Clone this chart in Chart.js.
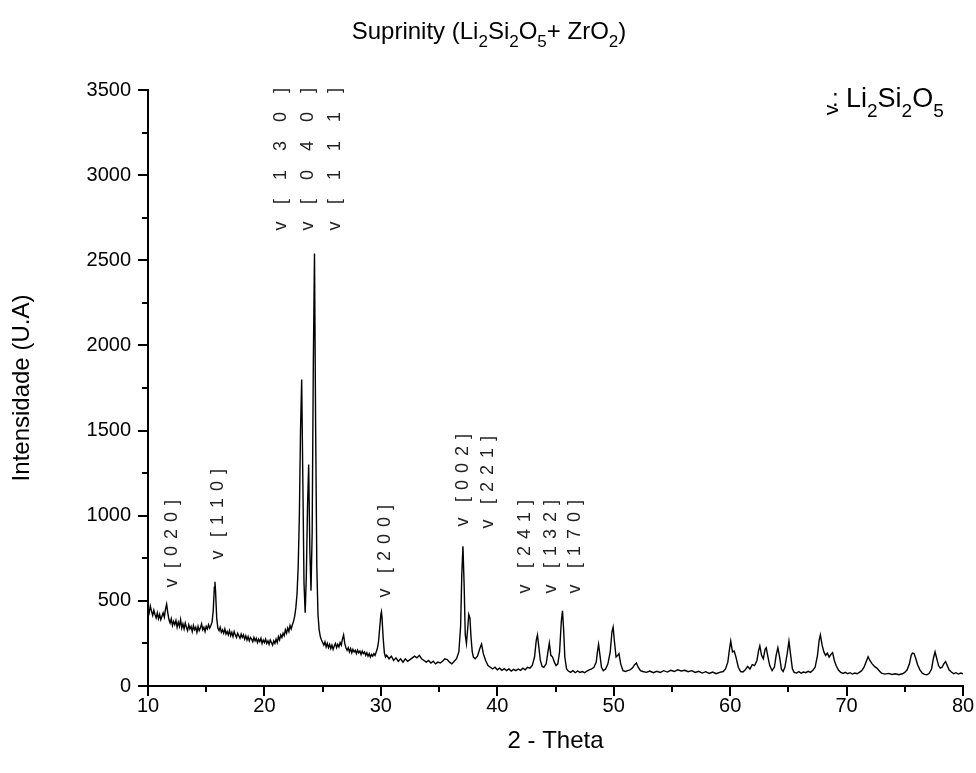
<!DOCTYPE html>
<html lang="pt">
<head>
<meta charset="UTF-8">
<title>Suprinity (Li2Si2O5 + ZrO2)</title>
<script src="https://cdn.jsdelivr.net/npm/chart.js"></script>
<style>
  html, body { margin: 0; padding: 0; background: #fff; }
  #wrap { width: 976px; height: 773px; }
</style>
</head>
<body>
<div id="wrap"><canvas id="xrdChart" width="976" height="773"></canvas></div>
<script>
// 2-theta positions
const theta = [
  10.0,10.1,10.2,10.3,10.4,10.5,10.6,10.7,10.8,10.9,
  11.0,11.1,11.2,11.3,11.4,11.5,11.6,11.7,11.8,11.9,
  12.0,12.1,12.2,12.3,12.4,12.5,12.6,12.7,12.8,12.9,
  13.0,13.1,13.2,13.3,13.4,13.5,13.6,13.7,13.8,13.9,
  14.0,14.1,14.2,14.3,14.4,14.5,14.6,14.7,14.8,14.9,
  15.0,15.1,15.2,15.3,15.4,15.5,15.6,15.7,15.75,15.8,15.9,
  16.0,16.1,16.2,16.3,16.4,16.5,16.6,16.7,16.8,16.9,
  17.0,17.1,17.2,17.3,17.4,17.5,17.6,17.7,17.8,17.9,
  18.0,18.1,18.2,18.3,18.4,18.5,18.6,18.7,18.8,18.9,
  19.0,19.1,19.2,19.3,19.4,19.5,19.6,19.7,19.8,19.9,
  20.0,20.1,20.2,20.3,20.4,20.5,20.6,20.7,20.8,20.9,
  21.0,21.1,21.2,21.3,21.4,21.5,21.6,21.7,21.8,21.9,
  22.0,22.1,22.2,22.3,22.4,22.5,22.6,22.7,22.8,22.9,
  23.0,23.1,23.2,23.3,23.4,23.5,23.6,23.7,23.8,23.9,
  24.0,24.1,24.2,24.3,24.4,24.5,24.6,24.7,24.8,24.9,
  25.0,25.1,25.2,25.3,25.4,25.5,25.6,25.7,25.8,25.9,
  26.0,26.1,26.2,26.3,26.4,26.5,26.6,26.7,26.8,26.9,
  27.0,27.1,27.2,27.3,27.4,27.5,27.6,27.7,27.8,27.9,
  28.0,28.1,28.2,28.3,28.4,28.5,28.6,28.7,28.8,28.9,
  29.0,29.1,29.2,29.3,29.4,29.5,29.6,29.7,29.8,29.9,
  30.0,30.05,30.1,30.2,30.3,30.4,
  30.5,30.7,30.9,31.1,31.3,31.5,31.7,31.9,32.1,32.3,
  32.5,32.7,32.9,33.1,33.3,33.5,33.7,33.9,34.1,34.3,
  34.5,34.7,34.9,35.1,35.3,35.5,35.7,35.9,36.1,36.3,
  36.5,36.7,36.85,36.95,37.05,37.15,37.25,37.35,37.45,37.55,
  37.65,37.75,37.85,37.95,38.1,38.3,38.5,38.65,38.8,39.0,
  39.2,39.4,39.6,39.8,40.0,40.2,40.4,40.6,40.8,41.0,
  41.2,41.4,41.6,41.8,42.0,42.2,42.4,42.6,42.8,43.0,
  43.2,43.35,43.45,43.55,43.7,43.85,44.0,44.2,44.35,44.47,
  44.6,44.75,44.9,45.05,45.2,45.35,45.5,45.6,45.7,45.8,
  45.95,46.1,46.3,46.5,46.7,46.9,47.1,47.3,47.5,47.7,
  47.9,48.1,48.3,48.5,48.6,48.7,48.8,48.95,49.1,49.3,
  49.5,49.7,49.85,49.95,50.05,50.2,50.35,50.45,50.6,50.8,
  51.0,51.2,51.4,51.6,51.8,51.95,52.1,52.3,52.5,52.8,
  53.1,53.4,53.7,54.0,54.3,54.6,54.9,55.2,55.5,55.8,
  56.1,56.4,56.7,57.0,57.3,57.6,57.9,58.2,58.5,58.8,
  59.1,59.4,59.6,59.8,59.95,60.05,60.2,60.35,60.5,60.7,
  60.9,61.1,61.3,61.5,61.7,61.9,62.1,62.3,62.45,62.55,
  62.7,62.85,63.0,63.1,63.25,63.4,63.6,63.8,63.95,64.1,
  64.25,64.4,64.55,64.7,64.9,65.05,65.2,65.35,65.5,65.7,
  65.9,66.1,66.3,66.5,66.7,66.9,67.1,67.3,67.5,67.65,
  67.75,67.9,68.05,68.2,68.35,68.5,68.65,68.8,68.95,69.1,
  69.3,69.5,69.7,69.9,70.1,70.3,70.5,70.7,70.9,71.1,
  71.3,71.5,71.7,71.85,72.0,72.2,72.4,72.6,72.8,73.0,
  73.3,73.6,73.9,74.2,74.5,74.8,75.0,75.2,75.4,75.55,
  75.65,75.8,75.95,76.1,76.3,76.5,76.7,76.9,77.1,77.3,
  77.45,77.6,77.75,77.9,78.05,78.2,78.35,78.5,78.65,78.8,
  79.0,79.2,79.4,79.6,79.8,80.0
];

// intensity (U.A) at each theta above
const intensity = [
  455,430,470,440,415,445,420,400,430,395,
  420,390,410,430,405,450,480,430,390,370,
  395,355,380,360,385,345,375,350,390,340,
  365,335,370,345,325,360,335,350,320,355,
  330,345,315,350,325,340,365,330,345,320,
  350,335,360,340,355,375,440,580,612,560,400,
  340,325,345,315,330,310,335,305,320,300,
  325,295,315,290,320,300,285,310,295,280,
  305,285,300,275,295,270,290,265,285,275,
  260,285,265,280,255,275,260,280,250,270,
  255,275,250,265,245,270,255,240,265,250,
  275,255,290,270,300,285,310,295,330,310,
  340,320,355,335,360,380,410,460,540,700,
  1000,1500,1800,1200,600,430,650,1050,1300,800,
  560,900,1900,2540,1500,700,420,330,290,270,
  255,240,260,230,250,225,245,220,240,215,
  235,250,225,245,230,255,240,275,300,250,
  225,210,225,200,220,195,215,200,210,190,
  210,195,205,185,205,190,200,180,195,175,
  190,170,185,175,190,180,200,220,260,340,
  420,436,400,280,195,170,
  180,160,175,150,165,145,160,140,160,145,
  155,165,175,165,180,160,150,140,150,135,
  145,130,140,135,145,160,155,140,130,145,
  160,200,350,650,820,600,300,250,330,420,
  400,280,200,170,160,175,220,246,190,150,
  120,110,100,110,95,105,92,102,90,100,
  88,98,90,100,92,105,95,110,105,120,
  170,270,300,240,150,115,110,130,200,252,
  180,170,140,120,130,200,380,442,330,170,
  100,88,80,90,78,88,80,85,78,88,
  95,100,110,140,200,245,190,110,90,100,
  130,200,320,346,270,170,180,190,130,90,
  85,90,95,105,125,135,110,90,85,80,
  88,78,86,80,90,82,92,85,95,88,
  92,84,90,80,86,76,84,74,82,72,
  80,85,100,140,220,264,200,205,170,110,
  85,82,95,115,100,125,120,150,210,235,
  180,160,215,225,170,120,90,110,180,225,
  170,100,85,110,190,264,180,100,80,76,
  84,75,82,78,86,80,92,110,180,270,
  300,240,200,180,193,170,185,196,150,120,
  94,80,74,80,72,78,70,76,72,80,
  90,110,145,172,150,130,115,105,90,75,
  70,74,68,72,66,72,80,95,130,180,
  193,190,160,125,95,75,68,66,75,100,
  160,201,160,120,105,110,130,143,120,95,
  82,72,78,70,76,72
];

// Li2Si2O5 reflections: label, 2-theta of the column, marker and label-foot heights
const peakLabels = ['[ 0 2 0 ]', '[ 1 1 0 ]', '[   1   3   0   ]', '[   0   4   0   ]', '[   1   1   1   ]', '[ 2 0 0 ]',
                    '[ 0 0 2 ]', '[ 2 2 1 ]', '[ 2 4 1 ]', '[ 1 3 2 ]', '[ 1 7 0 ]'];
const peakX   = [12.06, 16.0, 21.42, 23.74, 26.06, 30.36, 37.06, 39.2, 42.38, 44.61, 46.67];
const markerY = [605, 769, 2701, 2701, 2701, 546, 963, 951, 570, 570, 570];
const labelY  = [693, 875, 2830, 2830, 2830, 663, 1080, 1069, 693, 693, 693];

const xMinorTicks = [15, 25, 35, 45, 55, 65, 75];
const yMinorTicks = [250, 750, 1250, 1750, 2250, 2750, 3250];

const titleParts  = [['Suprinity (Li', 0], ['2', 1], ['Si', 0], ['2', 1], ['O', 0], ['5', 1], ['+ ZrO', 0], ['2', 1], [')', 0]];
const legendParts = [['Li', 0], ['2', 1], ['Si', 0], ['2', 1], ['O', 0], ['5', 1]];

const FONT = '"Liberation Sans", Arial, Helvetica, sans-serif';

function drawRich(ctx, parts, x0, baseline, size, subDrop, center) {
    const big = size + 'px ' + FONT;
    const small = Math.round(size * 0.7) + 'px ' + FONT;
    let w = 0;
    parts.forEach(p => { ctx.font = p[1] ? small : big; w += ctx.measureText(p[0]).width; });
    let cx = center ? x0 - w / 2 : x0;
    parts.forEach(p => {
        ctx.font = p[1] ? small : big;
        ctx.fillText(p[0], cx, baseline + (p[1] ? subDrop : 0));
        cx += ctx.measureText(p[0]).width;
    });
}

const decor = {
    id: 'xrdDecor',
    afterDraw(chart) {
        const { ctx, chartArea } = chart;
        const xs = chart.scales.x, ys = chart.scales.y;
        ctx.save();

        // minor ticks (Chart.js has no minor ticks of its own)
        ctx.strokeStyle = '#000';
        ctx.lineWidth = 2;
        ctx.beginPath();
        xMinorTicks.forEach(v => {
            const px = Math.round(xs.getPixelForValue(v));
            ctx.moveTo(px, chartArea.bottom);
            ctx.lineTo(px, chartArea.bottom + 6);
        });
        yMinorTicks.forEach(v => {
            const py = Math.round(ys.getPixelForValue(v));
            ctx.moveTo(chartArea.left, py);
            ctx.lineTo(chartArea.left - 6, py);
        });
        ctx.stroke();

        // peak markers and hkl labels, rotated
        ctx.fillStyle = '#222';
        peakLabels.forEach((lab, i) => {
            const px = xs.getPixelForValue(peakX[i]);
            ctx.save();
            ctx.translate(px, ys.getPixelForValue(markerY[i]));
            ctx.rotate(-Math.PI / 2);
            ctx.font = '18px ' + FONT;
            ctx.textAlign = 'center';
            ctx.textBaseline = 'middle';
            ctx.fillText('v', 0, 0);
            ctx.restore();

            ctx.save();
            ctx.translate(px, ys.getPixelForValue(labelY[i]));
            ctx.rotate(-Math.PI / 2);
            ctx.font = '18px ' + FONT;
            ctx.letterSpacing = '1px';
            ctx.textAlign = 'left';
            ctx.textBaseline = 'middle';
            ctx.fillText(lab, 0, 0);
            ctx.restore();
        });

        // legend: marker = Li2Si2O5
        ctx.fillStyle = '#000';
        ctx.save();
        ctx.translate(832, 110);
        ctx.rotate(-Math.PI / 2);
        ctx.font = '21px ' + FONT;
        ctx.textAlign = 'center';
        ctx.textBaseline = 'middle';
        ctx.fillText('v', 0, 0);
        ctx.restore();
        ctx.font = '24px ' + FONT;
        ctx.textAlign = 'left';
        ctx.textBaseline = 'alphabetic';
        ctx.fillText(':', 832, 106);
        drawRich(ctx, legendParts, 846, 107, 27, 10, false);

        // title
        drawRich(ctx, titleParts, 489, 39, 24, 8, true);
        ctx.restore();
    }
};

const points = theta.map((t, i) => ({ x: t, y: intensity[i] }));

new Chart(document.getElementById('xrdChart'), {
    type: 'line',
    data: {
        datasets: [{
            label: 'Suprinity',
            data: points,
            borderColor: '#000',
            borderWidth: 1.4,
            pointRadius: 0,
            tension: 0,
            fill: false
        }]
    },
    options: {
        responsive: false,
        animation: false,
        devicePixelRatio: 1,
        layout: { padding: { top: 90, right: 13, left: 0, bottom: 0 } },
        plugins: {
            legend: { display: false },
            tooltip: { enabled: false }
        },
        scales: {
            x: {
                type: 'linear',
                min: 10,
                max: 80,
                afterFit: s => { s.height = 87; },
                ticks: { stepSize: 10, color: '#000', padding: -2, font: { size: 20, family: FONT },
                         callback: v => String(v) },
                grid: { drawOnChartArea: false, drawTicks: true, tickLength: 10, color: '#000', lineWidth: 2 },
                border: { display: true, color: '#000', width: 2 },
                title: { display: true, text: '2 - Theta', color: '#000', font: { size: 24, family: FONT },
                         padding: { top: 0, bottom: 17 } }
            },
            y: {
                min: 0,
                max: 3500,
                afterFit: s => { s.width = 148; },
                ticks: { stepSize: 500, color: '#000', padding: 7, font: { size: 20, family: FONT },
                         callback: v => String(v) },
                grid: { drawOnChartArea: false, drawTicks: true, tickLength: 10, color: '#000', lineWidth: 2 },
                border: { display: true, color: '#000', width: 2 },
                title: { display: true, text: 'Intensidade (U.A)', color: '#000', font: { size: 24, family: FONT },
                         padding: { top: 8, bottom: 0 } }
            }
        }
    },
    plugins: [decor]
});
</script>
</body>
</html>
